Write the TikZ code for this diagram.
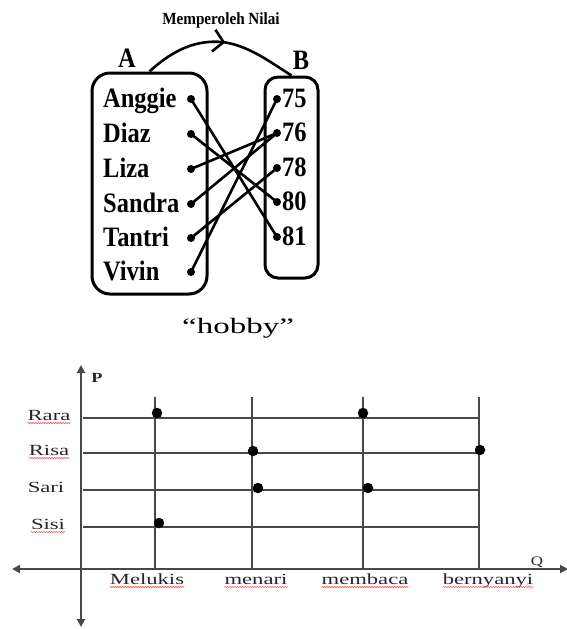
\documentclass[tikz,border=0pt]{standalone}
\usepackage{fontspec}
\setmainfont{Liberation Serif}
\usepackage{graphicx}
\usetikzlibrary{arrows.meta,decorations.markings,decorations.pathmorphing}
\newcommand{\wtext}[1]{\scalebox{1.46}[1]{#1}}
\newcommand{\ttext}[1]{\scalebox{0.94}[1.08]{#1}}
\begin{document}
\begin{tikzpicture}[x=1pt,y=-1pt,
  setbox/.style={draw, line width=3pt, inner sep=0pt},
  mapline/.style={line width=2.6pt},
  dotmark/.style={circle, fill=black, inner sep=0pt, minimum size=8pt},
  lbl/.style={font=\fontsize{26}{30}\selectfont\bfseries, inner sep=0pt, anchor=base west},
  setname/.style={font=\fontsize{26}{30}\selectfont\bfseries, inner sep=0pt},
  gridln/.style={line width=1.9pt, draw=black!72},
  axisln/.style={line width=1.9pt, draw=black!72},
  gdot/.style={circle, fill=black, inner sep=0pt, minimum size=10.5pt},
  glabel/.style={font=\fontsize{15.5}{18}\selectfont, inner sep=0pt, anchor=base, text=black!85},
  spell/.style={draw=red!65, line width=0.6pt, decorate, decoration={snake, amplitude=0.6pt, segment length=2.5pt}},
]
\useasboundingbox (0,0) rectangle (566,629);

% ---------- sets ----------
\node[setbox, rounded corners=18pt, minimum width=115pt, minimum height=221pt] (boxA) at (149.5,183.5) {};
\node[setbox, rounded corners=13pt, minimum width=53pt, minimum height=201pt] (boxB) at (291.5,177.5) {};

\node[setname] (labA) at (127,58) {\ttext{A}};
\node[setname] (labB) at (301,60) {\ttext{B}};
\node[font=\fontsize{15.5}{18}\selectfont\bfseries, inner sep=0pt] (rel) at (221,20) {\scalebox{0.98}[1.1]{Memperoleh Nilai}};

\draw[line width=2.6pt, postaction={decorate},
  decoration={markings, mark=at position 0.53 with {\arrow{Straight Barb[length=10pt,width=22pt,line width=2.6pt]}}}]
  (boxA.north) .. controls (175,48) and (198,40) .. (222,42) .. controls (248,45) and (270,62) .. (boxB.north);

% left elements
\foreach \nm/\y [count=\i] in {Anggie/99,Diaz/134,Liza/169,Sandra/204,Tantri/238,Vivin/272}{
  \node[lbl] (tL\i) at (103,\y+8) {\ttext{\nm}};
  \node[dotmark] (dL\i) at (191,\y) {};
}
% right elements
\foreach \nm/\y [count=\i] in {75/99,76/133,78/168,80/202,81/237}{
  \node[lbl] (tR\i) at (282,\y+8) {\ttext{\nm}};
  \node[dotmark] (dR\i) at (277,\y) {};
}
\draw[mapline] (dL1.center) -- (dR5.center);
\draw[mapline] (dL2.center) -- (dR4.center);
\draw[mapline] (dL3.center) -- (dR2.center);
\draw[mapline] (dL4.center) -- (dR2.center);
\draw[mapline] (dL5.center) -- (dR3.center);
\draw[mapline] (dL6.center) -- (dR1.center);

% ---------- hobby graph ----------
\node[font=\fontsize{22}{26}\selectfont, inner sep=0pt, anchor=base] (title) at (238,333) {\scalebox{1.5}[1]{``hobby''}};

\coordinate (yb) at (81,627);
\coordinate (yt) at (81,365);
\coordinate (xl) at (12,569);
\coordinate (xr) at (568,569);
\draw[axisln, {Triangle[length=8pt,width=8pt]}-{Triangle[length=8pt,width=8pt]}] (yb) -- (yt);
\draw[axisln, {Triangle[length=8pt,width=8pt]}-{Triangle[length=8pt,width=8pt]}] (xl) -- (xr);

\node[font=\fontsize{14}{16}\selectfont\bfseries, inner sep=0pt, text=black!85] (P) at (97,378) {\scalebox{1.3}[1]{P}};
\node[font=\fontsize{13}{15}\selectfont, inner sep=0pt, text=black!85] (Q) at (537,562) {\scalebox{1.3}[1]{Q}};

% vertical grid lines (hobbies)
\foreach \nm/\x/\lx [count=\i] in {Melukis/155/147,menari/252/256,membaca/363/365,bernyanyi/479/488}{
  \coordinate (vt\i) at (\x,397);
  \coordinate (vb\i) at (\x,569);
  \draw[gridln] (vt\i) -- (vb\i);
  \node[glabel] (h\i) at (\lx,584) {\wtext{\nm}};
  \draw[spell] ([yshift=-3pt]h\i.base west) -- ([yshift=-3pt]h\i.base east);
}
% horizontal grid lines (persons)
\foreach \nm/\y/\lx [count=\i] in {Rara/418/49,Risa/453/49,Sari/490/46,Sisi/527/48}{
  \coordinate (hl\i) at (83,\y);
  \coordinate (hr\i) at (479,\y);
  \draw[gridln] (hl\i) -- (hr\i);
  \node[glabel] (p\i) at (\lx,\y+2) {\wtext{\nm}};
}
\draw[spell] ([yshift=-3pt]p1.base west) -- ([yshift=-3pt]p1.base east);
\draw[spell] ([yshift=-3pt]p2.base west) -- ([yshift=-3pt]p2.base east);
\draw[spell] ([yshift=-3pt]p4.base west) -- ([yshift=-3pt]p4.base east);

% dots
\node[gdot] (g1) at (157,413) {};
\node[gdot] (g2) at (363,413) {};
\node[gdot] (g3) at (253,451) {};
\node[gdot] (g4) at (480,450) {};
\node[gdot] (g5) at (258,488) {};
\node[gdot] (g6) at (368,488) {};
\node[gdot] (g7) at (159,523) {};
\end{tikzpicture}
\end{document}
